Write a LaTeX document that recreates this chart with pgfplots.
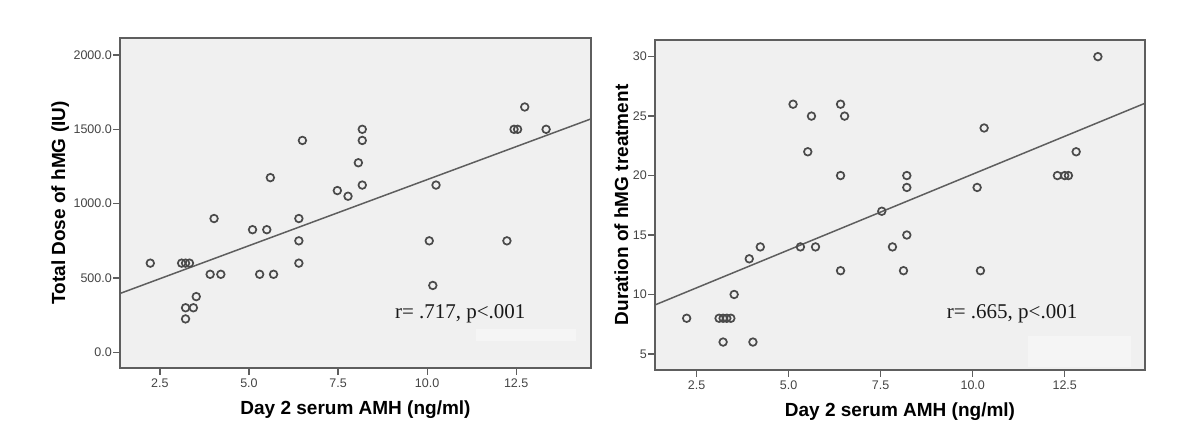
\documentclass[border=0pt]{standalone}
\usepackage{fontspec}
\setmainfont{Liberation Sans}
\newfontfamily\seriffont{Liberation Serif}
\usepackage{pgfplots}
\usepackage{pgfplotstable}
\pgfplotsset{compat=1.18}
\definecolor{plotbg}{HTML}{F0F0F0}
\definecolor{framec}{HTML}{5E5E5E}
\definecolor{ticklab}{HTML}{444444}
\definecolor{markc}{HTML}{4A4A4A}

\pgfplotstableread{
x y
2.23 600
3.11 600
3.22 600
3.33 600
3.91 525
4.21 525
4.02 900
3.22 300
3.44 300
3.52 375
3.22 225
5.10 825
5.50 825
5.30 525
5.69 525
5.60 1175
6.50 1425
6.40 900
6.40 750
6.40 600
7.48 1088
7.78 1050
8.07 1275
8.18 1500
8.18 1425
8.18 1125
10.06 750
10.16 450
10.25 1125
12.24 750
12.44 1500
12.54 1500
12.74 1650
13.34 1500
}\dosedata

\pgfplotstableread{
x y
2.23 8
3.11 8
3.22 8
3.32 8
3.43 8
3.22 6
4.03 6
3.52 10
3.93 13
4.23 14
5.12 26
5.62 25
5.52 22
5.32 14
5.73 14
6.41 26
6.52 25
6.41 20
6.41 12
7.53 17
7.82 14
8.12 12
8.21 20
8.21 19
8.21 15
10.12 19
10.21 12
10.31 24
12.30 20
12.50 20
12.60 20
12.81 22
13.40 30
}\durdata

\pgfplotsset{spss/.style={
  scale only axis,
  axis background/.style={fill=plotbg},
  axis line style={framec, line width=1.6pt},
  every tick/.style={framec, line width=1.2pt},
  tick align=outside,
  major tick length=7pt,
  xtick pos=bottom, ytick pos=left,
  tick label style={font=\fontsize{12.5}{14}\selectfont, text=ticklab},
  yticklabel style={inner sep=1pt},
  label style={font=\bfseries\fontsize{19}{22}\selectfont},
  xlabel style={yshift=-6pt},
  /pgf/number format/assume math mode=true,
  xtick={2.5,5,7.5,10,12.5},
  xticklabel style={/pgf/number format/.cd, fixed, fixed zerofill, precision=1},
  xlabel={Day 2 serum AMH (ng/ml)},
  clip=false,
}}

\begin{document}
\begin{tikzpicture}
\useasboundingbox (0,0) rectangle (1200pt,443pt);
\begin{axis}[spss,
  at={(120pt,75pt)}, anchor=south west,
  width=471pt, height=330pt,
  xmin=1.38, xmax=14.6, ymin=-105, ymax=2114,
  ytick={0,500,1000,1500,2000},
  yticklabel style={/pgf/number format/.cd, fixed, fixed zerofill, precision=1, 1000 sep={}},
  ylabel={Total Dose of hMG (IU)},
]
\fill[white!30!plotbg] (axis cs:11.38,76) rectangle (axis cs:14.19,156);
\addplot[only marks, mark=o, mark size=3.8pt, mark options={markc, line width=1.7pt}] table {\dosedata};
\addplot[framec, line width=1.5pt, no marks] coordinates {(1.38,396) (14.6,1570)};
\node[font=\seriffont\fontsize{21}{24}\selectfont, text=black!90] at (axis cs:10.93,262) {r= .717, p<.001};
\end{axis}

\begin{axis}[spss,
  at={(655pt,73pt)}, anchor=south west,
  width=490pt, height=330pt,
  xmin=1.37, xmax=14.68, ymin=3.65, ymax=31.4,
  ytick={5,10,15,20,25,30},
  ylabel={Duration of hMG treatment},
]
\fill[white!30!plotbg] (axis cs:11.5,3.9) rectangle (axis cs:14.3,6.5);
\addplot[only marks, mark=o, mark size=3.8pt, mark options={markc, line width=1.7pt}] table {\durdata};
\addplot[framec, line width=1.5pt, no marks] coordinates {(1.37,9.12) (14.68,26.08)};
\node[font=\seriffont\fontsize{21}{24}\selectfont, text=black!90] at (axis cs:11.07,8.4) {r= .665, p<.001};
\end{axis}
\end{tikzpicture}
\end{document}
